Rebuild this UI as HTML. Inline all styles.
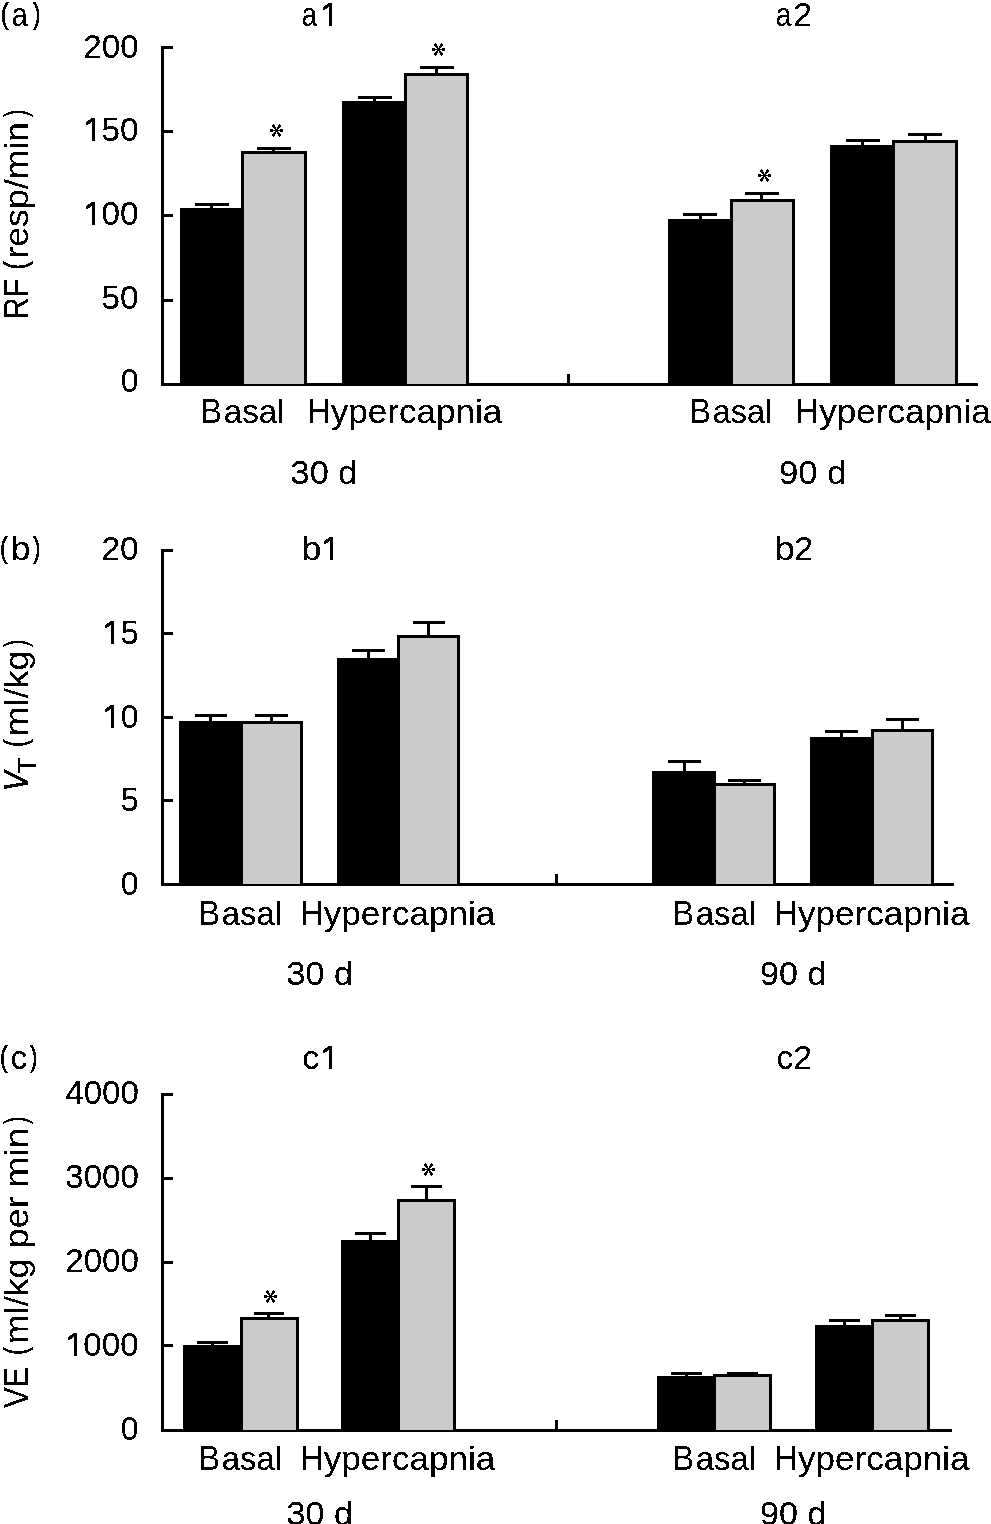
<!DOCTYPE html>
<html><head><meta charset="utf-8"><title>Figure</title>
<style>
html,body{margin:0;padding:0;background:#fff;}
svg{display:block;filter:grayscale(1);}
text{font-family:"Liberation Sans",sans-serif;fill:#000;stroke:#000;}
body{width:991px;height:1524px;overflow:hidden;}
</style></head>
<body>
<svg width="991" height="1524" viewBox="0 0 991 1524">
<defs><filter id="bw" filterUnits="userSpaceOnUse" x="0" y="0" width="991" height="1524" color-interpolation-filters="sRGB"><feComponentTransfer><feFuncA type="discrete" tableValues="0 1"/></feComponentTransfer></filter></defs>
<rect x="0" y="0" width="991" height="1524" fill="#fff"/>
<g shape-rendering="crispEdges">
<rect x="161.0" y="46.0" width="3.0" height="340.0" fill="#000"/>
<rect x="164.0" y="46.0" width="9.0" height="3.0" fill="#000"/>
<rect x="164.0" y="130.0" width="9.0" height="3.0" fill="#000"/>
<rect x="164.0" y="214.0" width="9.0" height="3.0" fill="#000"/>
<rect x="164.0" y="299.0" width="9.0" height="3.0" fill="#000"/>
<rect x="161.0" y="383.0" width="817.0" height="3.0" fill="#000"/>
<rect x="567.0" y="374.0" width="3.0" height="9.0" fill="#000"/>
<rect x="180.0" y="208.0" width="64.0" height="176.0" fill="#000"/>
<rect x="241.0" y="151.0" width="66.0" height="233.0" fill="#000"/>
<rect x="244.0" y="154.0" width="60.0" height="230.0" fill="#cbcbcb"/>
<rect x="342.0" y="101.0" width="65.0" height="283.0" fill="#000"/>
<rect x="404.0" y="73.0" width="65.0" height="311.0" fill="#000"/>
<rect x="407.0" y="76.0" width="59.0" height="308.0" fill="#cbcbcb"/>
<rect x="668.0" y="219.0" width="65.0" height="165.0" fill="#000"/>
<rect x="730.0" y="199.0" width="65.0" height="185.0" fill="#000"/>
<rect x="733.0" y="202.0" width="59.0" height="182.0" fill="#cbcbcb"/>
<rect x="830.0" y="145.0" width="65.0" height="239.0" fill="#000"/>
<rect x="892.0" y="140.0" width="66.0" height="244.0" fill="#000"/>
<rect x="895.0" y="143.0" width="60.0" height="241.0" fill="#cbcbcb"/>
<rect x="195.0" y="203.0" width="34.0" height="3.0" fill="#000"/>
<rect x="210.0" y="203.0" width="3.0" height="6.0" fill="#000"/>
<rect x="257.0" y="147.0" width="34.0" height="3.0" fill="#000"/>
<rect x="272.0" y="147.0" width="3.0" height="5.0" fill="#000"/>
<rect x="358.0" y="96.0" width="34.0" height="3.0" fill="#000"/>
<rect x="373.0" y="96.0" width="3.0" height="6.0" fill="#000"/>
<rect x="420.0" y="66.0" width="34.0" height="3.0" fill="#000"/>
<rect x="435.0" y="66.0" width="3.0" height="8.0" fill="#000"/>
<rect x="683.0" y="213.0" width="34.0" height="3.0" fill="#000"/>
<rect x="699.0" y="213.0" width="3.0" height="7.0" fill="#000"/>
<rect x="745.0" y="192.0" width="34.0" height="3.0" fill="#000"/>
<rect x="760.0" y="192.0" width="3.0" height="8.0" fill="#000"/>
<rect x="846.0" y="139.0" width="34.0" height="3.0" fill="#000"/>
<rect x="861.0" y="139.0" width="3.0" height="7.0" fill="#000"/>
<rect x="908.0" y="133.0" width="34.0" height="3.0" fill="#000"/>
<rect x="924.0" y="133.0" width="3.0" height="8.0" fill="#000"/>
<rect x="161.0" y="549.0" width="3.0" height="337.0" fill="#000"/>
<rect x="164.0" y="549.0" width="9.0" height="3.0" fill="#000"/>
<rect x="164.0" y="632.0" width="9.0" height="3.0" fill="#000"/>
<rect x="164.0" y="716.0" width="9.0" height="3.0" fill="#000"/>
<rect x="164.0" y="799.0" width="9.0" height="3.0" fill="#000"/>
<rect x="161.0" y="883.0" width="793.0" height="3.0" fill="#000"/>
<rect x="555.0" y="874.0" width="3.0" height="9.0" fill="#000"/>
<rect x="179.0" y="721.0" width="64.0" height="163.0" fill="#000"/>
<rect x="240.0" y="721.0" width="63.0" height="163.0" fill="#000"/>
<rect x="243.0" y="724.0" width="57.0" height="160.0" fill="#cbcbcb"/>
<rect x="337.0" y="658.0" width="63.0" height="226.0" fill="#000"/>
<rect x="397.0" y="635.0" width="63.0" height="249.0" fill="#000"/>
<rect x="400.0" y="638.0" width="57.0" height="246.0" fill="#cbcbcb"/>
<rect x="652.0" y="771.0" width="64.0" height="113.0" fill="#000"/>
<rect x="713.0" y="783.0" width="63.0" height="101.0" fill="#000"/>
<rect x="716.0" y="786.0" width="57.0" height="98.0" fill="#cbcbcb"/>
<rect x="810.0" y="737.0" width="64.0" height="147.0" fill="#000"/>
<rect x="871.0" y="729.0" width="63.0" height="155.0" fill="#000"/>
<rect x="874.0" y="732.0" width="57.0" height="152.0" fill="#cbcbcb"/>
<rect x="195.0" y="714.0" width="32.0" height="3.0" fill="#000"/>
<rect x="209.0" y="714.0" width="3.0" height="8.0" fill="#000"/>
<rect x="255.0" y="714.0" width="33.0" height="3.0" fill="#000"/>
<rect x="270.0" y="714.0" width="3.0" height="8.0" fill="#000"/>
<rect x="352.0" y="649.0" width="33.0" height="3.0" fill="#000"/>
<rect x="367.0" y="649.0" width="3.0" height="10.0" fill="#000"/>
<rect x="413.0" y="621.0" width="32.0" height="3.0" fill="#000"/>
<rect x="427.0" y="621.0" width="3.0" height="15.0" fill="#000"/>
<rect x="668.0" y="760.0" width="33.0" height="3.0" fill="#000"/>
<rect x="683.0" y="760.0" width="3.0" height="12.0" fill="#000"/>
<rect x="728.0" y="779.0" width="33.0" height="3.0" fill="#000"/>
<rect x="743.0" y="779.0" width="3.0" height="5.0" fill="#000"/>
<rect x="825.0" y="730.0" width="33.0" height="3.0" fill="#000"/>
<rect x="840.0" y="730.0" width="3.0" height="8.0" fill="#000"/>
<rect x="886.0" y="718.0" width="33.0" height="3.0" fill="#000"/>
<rect x="901.0" y="718.0" width="3.0" height="12.0" fill="#000"/>
<rect x="161.0" y="1093.0" width="3.0" height="339.0" fill="#000"/>
<rect x="164.0" y="1093.0" width="9.0" height="3.0" fill="#000"/>
<rect x="164.0" y="1177.0" width="9.0" height="3.0" fill="#000"/>
<rect x="164.0" y="1261.0" width="9.0" height="3.0" fill="#000"/>
<rect x="164.0" y="1344.0" width="9.0" height="3.0" fill="#000"/>
<rect x="161.0" y="1429.0" width="791.0" height="3.0" fill="#000"/>
<rect x="555.0" y="1420.0" width="3.0" height="9.0" fill="#000"/>
<rect x="183.0" y="1345.0" width="60.0" height="85.0" fill="#000"/>
<rect x="240.0" y="1317.0" width="59.0" height="113.0" fill="#000"/>
<rect x="243.0" y="1320.0" width="53.0" height="110.0" fill="#cbcbcb"/>
<rect x="341.0" y="1240.0" width="59.0" height="190.0" fill="#000"/>
<rect x="397.0" y="1199.0" width="59.0" height="231.0" fill="#000"/>
<rect x="400.0" y="1202.0" width="53.0" height="228.0" fill="#cbcbcb"/>
<rect x="657.0" y="1376.0" width="59.0" height="54.0" fill="#000"/>
<rect x="713.0" y="1374.0" width="59.0" height="56.0" fill="#000"/>
<rect x="716.0" y="1377.0" width="53.0" height="53.0" fill="#cbcbcb"/>
<rect x="815.0" y="1325.0" width="59.0" height="105.0" fill="#000"/>
<rect x="871.0" y="1319.0" width="59.0" height="111.0" fill="#000"/>
<rect x="874.0" y="1322.0" width="53.0" height="108.0" fill="#cbcbcb"/>
<rect x="197.0" y="1341.0" width="31.0" height="3.0" fill="#000"/>
<rect x="211.0" y="1341.0" width="3.0" height="5.0" fill="#000"/>
<rect x="254.0" y="1312.0" width="30.0" height="3.0" fill="#000"/>
<rect x="267.0" y="1312.0" width="3.0" height="6.0" fill="#000"/>
<rect x="355.0" y="1232.0" width="31.0" height="3.0" fill="#000"/>
<rect x="369.0" y="1232.0" width="3.0" height="9.0" fill="#000"/>
<rect x="411.0" y="1185.0" width="31.0" height="3.0" fill="#000"/>
<rect x="425.0" y="1185.0" width="3.0" height="15.0" fill="#000"/>
<rect x="671.0" y="1372.0" width="31.0" height="3.0" fill="#000"/>
<rect x="685.0" y="1372.0" width="3.0" height="5.0" fill="#000"/>
<rect x="727.0" y="1372.0" width="31.0" height="3.0" fill="#000"/>
<rect x="741.0" y="1372.0" width="3.0" height="3.0" fill="#000"/>
<rect x="829.0" y="1319.0" width="31.0" height="3.0" fill="#000"/>
<rect x="843.0" y="1319.0" width="3.0" height="7.0" fill="#000"/>
<rect x="885.0" y="1314.0" width="31.0" height="3.0" fill="#000"/>
<rect x="899.0" y="1314.0" width="3.0" height="6.0" fill="#000"/>
</g>
<g filter="url(#bw)">
<path d="M276.80,131.05 L282.45,131.95 L283.05,131.95 L283.05,129.05 L282.45,129.05 L276.80,129.95Z" fill="#000"/>
<path d="M276.19,131.05 L278.61,136.61 L278.93,137.12 L281.39,135.58 L281.07,135.07 L277.13,130.46Z" fill="#000"/>
<path d="M275.87,130.46 L271.93,135.07 L271.61,135.58 L274.07,137.12 L274.39,136.61 L276.81,131.05Z" fill="#000"/>
<path d="M276.20,129.95 L270.55,129.05 L269.95,129.05 L269.95,131.95 L270.55,131.95 L276.20,131.05Z" fill="#000"/>
<path d="M276.81,129.95 L274.39,124.39 L274.07,123.88 L271.61,125.42 L271.93,125.93 L275.87,130.54Z" fill="#000"/>
<path d="M277.13,130.54 L281.07,125.93 L281.39,125.42 L278.93,123.88 L278.61,124.39 L276.19,129.95Z" fill="#000"/>
<circle cx="276.50" cy="130.50" r="1.0" fill="#000"/>
<path d="M438.80,50.05 L444.45,50.95 L445.05,50.95 L445.05,48.05 L444.45,48.05 L438.80,48.95Z" fill="#000"/>
<path d="M438.19,50.05 L440.61,55.61 L440.93,56.12 L443.39,54.58 L443.07,54.07 L439.13,49.46Z" fill="#000"/>
<path d="M437.87,49.46 L433.93,54.07 L433.61,54.58 L436.07,56.12 L436.39,55.61 L438.81,50.05Z" fill="#000"/>
<path d="M438.20,48.95 L432.55,48.05 L431.95,48.05 L431.95,50.95 L432.55,50.95 L438.20,50.05Z" fill="#000"/>
<path d="M438.81,48.95 L436.39,43.39 L436.07,42.88 L433.61,44.42 L433.93,44.93 L437.87,49.54Z" fill="#000"/>
<path d="M439.13,49.54 L443.07,44.93 L443.39,44.42 L440.93,42.88 L440.61,43.39 L438.19,48.95Z" fill="#000"/>
<circle cx="438.50" cy="49.50" r="1.0" fill="#000"/>
<path d="M764.80,176.05 L770.45,176.95 L771.05,176.95 L771.05,174.05 L770.45,174.05 L764.80,174.95Z" fill="#000"/>
<path d="M764.19,176.05 L766.61,181.61 L766.93,182.12 L769.39,180.58 L769.07,180.07 L765.13,175.46Z" fill="#000"/>
<path d="M763.87,175.46 L759.93,180.07 L759.61,180.58 L762.07,182.12 L762.39,181.61 L764.81,176.05Z" fill="#000"/>
<path d="M764.20,174.95 L758.55,174.05 L757.95,174.05 L757.95,176.95 L758.55,176.95 L764.20,176.05Z" fill="#000"/>
<path d="M764.81,174.95 L762.39,169.39 L762.07,168.88 L759.61,170.42 L759.93,170.93 L763.87,175.54Z" fill="#000"/>
<path d="M765.13,175.54 L769.07,170.93 L769.39,170.42 L766.93,168.88 L766.61,169.39 L764.19,174.95Z" fill="#000"/>
<circle cx="764.50" cy="175.50" r="1.0" fill="#000"/>
<path d="M270.80,1297.05 L276.45,1297.95 L277.05,1297.95 L277.05,1295.05 L276.45,1295.05 L270.80,1295.95Z" fill="#000"/>
<path d="M270.19,1297.05 L272.61,1302.61 L272.93,1303.12 L275.39,1301.58 L275.07,1301.07 L271.13,1296.46Z" fill="#000"/>
<path d="M269.87,1296.46 L265.93,1301.07 L265.61,1301.58 L268.07,1303.12 L268.39,1302.61 L270.81,1297.05Z" fill="#000"/>
<path d="M270.20,1295.95 L264.55,1295.05 L263.95,1295.05 L263.95,1297.95 L264.55,1297.95 L270.20,1297.05Z" fill="#000"/>
<path d="M270.81,1295.95 L268.39,1290.39 L268.07,1289.88 L265.61,1291.42 L265.93,1291.93 L269.87,1296.54Z" fill="#000"/>
<path d="M271.13,1296.54 L275.07,1291.93 L275.39,1291.42 L272.93,1289.88 L272.61,1290.39 L270.19,1295.95Z" fill="#000"/>
<circle cx="270.50" cy="1296.50" r="1.0" fill="#000"/>
<path d="M428.80,1170.05 L434.45,1170.95 L435.05,1170.95 L435.05,1168.05 L434.45,1168.05 L428.80,1168.95Z" fill="#000"/>
<path d="M428.19,1170.05 L430.61,1175.61 L430.93,1176.12 L433.39,1174.58 L433.07,1174.07 L429.13,1169.46Z" fill="#000"/>
<path d="M427.87,1169.46 L423.93,1174.07 L423.61,1174.58 L426.07,1176.12 L426.39,1175.61 L428.81,1170.05Z" fill="#000"/>
<path d="M428.20,1168.95 L422.55,1168.05 L421.95,1168.05 L421.95,1170.95 L422.55,1170.95 L428.20,1170.05Z" fill="#000"/>
<path d="M428.81,1168.95 L426.39,1163.39 L426.07,1162.88 L423.61,1164.42 L423.93,1164.93 L427.87,1169.54Z" fill="#000"/>
<path d="M429.13,1169.54 L433.07,1164.93 L433.39,1164.42 L430.93,1162.88 L430.61,1163.39 L428.19,1168.95Z" fill="#000"/>
<circle cx="428.50" cy="1169.50" r="1.0" fill="#000"/>
<path d="M329.00,26.00 L332.00,26.00 L332.00,3.00 L329.00,3.00 L323.00,7.00 L323.00,10.00 L324.60,10.00 L329.00,6.80Z" fill="#000"/>
<path d="M330.00,560.00 L333.00,560.00 L333.00,537.00 L330.00,537.00 L324.00,541.00 L324.00,544.00 L325.60,544.00 L330.00,540.80Z" fill="#000"/>
<path d="M329.00,1069.00 L332.00,1069.00 L332.00,1046.00 L329.00,1046.00 L323.00,1050.00 L323.00,1053.00 L324.60,1053.00 L329.00,1049.80Z" fill="#000"/>
<path d="M92.00,141.00 L95.00,141.00 L95.00,118.00 L92.00,118.00 L86.00,122.00 L86.00,125.00 L87.60,125.00 L92.00,121.80Z" fill="#000"/>
<path d="M92.00,225.00 L95.00,225.00 L95.00,202.00 L92.00,202.00 L86.00,206.00 L86.00,209.00 L87.60,209.00 L92.00,205.80Z" fill="#000"/>
<path d="M111.00,644.00 L114.00,644.00 L114.00,621.00 L111.00,621.00 L105.00,625.00 L105.00,628.00 L106.60,628.00 L111.00,624.80Z" fill="#000"/>
<path d="M111.00,728.00 L114.00,728.00 L114.00,705.00 L111.00,705.00 L105.00,709.00 L105.00,712.00 L106.60,712.00 L111.00,708.80Z" fill="#000"/>
<path d="M74.00,1356.00 L77.00,1356.00 L77.00,1333.00 L74.00,1333.00 L68.00,1337.00 L68.00,1340.00 L69.60,1340.00 L74.00,1336.80Z" fill="#000"/>
<text x="0.47" y="23.75" font-size="30.2" stroke-width="0.4" textLength="8.41" lengthAdjust="spacingAndGlyphs">(</text>
<text x="32.73" y="23.75" font-size="30.2" stroke-width="0.4" textLength="7.96" lengthAdjust="spacingAndGlyphs">)</text>
<text x="11.73" y="26.00" font-size="33" stroke-width="0.16" textLength="15.94" lengthAdjust="spacingAndGlyphs">a</text>
<text x="-0.29" y="557.75" font-size="30.2" stroke-width="0.4" textLength="8.16" lengthAdjust="spacingAndGlyphs">(</text>
<text x="32.73" y="557.75" font-size="30.2" stroke-width="0.4" textLength="7.96" lengthAdjust="spacingAndGlyphs">)</text>
<text x="10.70" y="560.00" font-size="33" stroke-width="0.16" textLength="19.82" lengthAdjust="spacingAndGlyphs">b</text>
<text x="-0.29" y="1066.85" font-size="30.2" stroke-width="0.4" textLength="8.16" lengthAdjust="spacingAndGlyphs">(</text>
<text x="29.73" y="1066.85" font-size="30.2" stroke-width="0.4" textLength="7.84" lengthAdjust="spacingAndGlyphs">)</text>
<text x="10.54" y="1069.10" font-size="33" stroke-width="0.16" textLength="16.74" lengthAdjust="spacingAndGlyphs">c</text>
<text x="301.55" y="26.00" font-size="33" stroke-width="0.16" textLength="15.73" lengthAdjust="spacingAndGlyphs">a</text>
<text x="775.43" y="26.00" font-size="33" stroke-width="0.16" textLength="15.94" lengthAdjust="spacingAndGlyphs">a</text>
<text x="793.17" y="26.00" font-size="33" stroke-width="0.16" textLength="18.70" lengthAdjust="spacingAndGlyphs">2</text>
<text x="301.49" y="560.00" font-size="33" stroke-width="0.16" textLength="19.95" lengthAdjust="spacingAndGlyphs">b</text>
<text x="774.32" y="560.00" font-size="33" stroke-width="0.16" textLength="20.56" lengthAdjust="spacingAndGlyphs">b</text>
<text x="794.17" y="560.00" font-size="33" stroke-width="0.16" textLength="18.70" lengthAdjust="spacingAndGlyphs">2</text>
<text x="302.31" y="1069.10" font-size="33" stroke-width="0.16" textLength="17.09" lengthAdjust="spacingAndGlyphs">c</text>
<text x="776.64" y="1069.10" font-size="33" stroke-width="0.16" textLength="16.74" lengthAdjust="spacingAndGlyphs">c</text>
<text x="793.17" y="1069.10" font-size="33" stroke-width="0.16" textLength="18.70" lengthAdjust="spacingAndGlyphs">2</text>
<text x="200.38" y="423.00" font-size="34.8" stroke-width="0.0" textLength="21.44" lengthAdjust="spacingAndGlyphs">B</text>
<text x="223.76" y="423.00" font-size="33" stroke-width="0.16" textLength="60.87" lengthAdjust="spacingAndGlyphs">asal</text>
<text x="689.38" y="423.00" font-size="34.8" stroke-width="0.0" textLength="21.44" lengthAdjust="spacingAndGlyphs">B</text>
<text x="712.79" y="423.00" font-size="33" stroke-width="0.16" textLength="59.59" lengthAdjust="spacingAndGlyphs">asal</text>
<text x="307.27" y="423.00" font-size="34.8" stroke-width="0.0" textLength="23.32" lengthAdjust="spacingAndGlyphs">H</text>
<text x="330.84" y="423.00" font-size="33" stroke-width="0.16" textLength="171.56" lengthAdjust="spacingAndGlyphs">ypercapnia</text>
<text x="795.77" y="423.00" font-size="34.8" stroke-width="0.0" textLength="23.32" lengthAdjust="spacingAndGlyphs">H</text>
<text x="819.34" y="423.00" font-size="33" stroke-width="0.16" textLength="171.56" lengthAdjust="spacingAndGlyphs">ypercapnia</text>
<text x="198.38" y="925.00" font-size="34.8" stroke-width="0.0" textLength="21.44" lengthAdjust="spacingAndGlyphs">B</text>
<text x="221.77" y="925.00" font-size="33" stroke-width="0.16" textLength="60.23" lengthAdjust="spacingAndGlyphs">asal</text>
<text x="672.38" y="925.00" font-size="34.8" stroke-width="0.0" textLength="21.44" lengthAdjust="spacingAndGlyphs">B</text>
<text x="695.77" y="925.00" font-size="33" stroke-width="0.16" textLength="60.44" lengthAdjust="spacingAndGlyphs">asal</text>
<text x="300.27" y="925.00" font-size="34.8" stroke-width="0.0" textLength="23.32" lengthAdjust="spacingAndGlyphs">H</text>
<text x="323.84" y="925.00" font-size="33" stroke-width="0.16" textLength="171.46" lengthAdjust="spacingAndGlyphs">ypercapnia</text>
<text x="774.37" y="925.00" font-size="34.8" stroke-width="0.0" textLength="23.32" lengthAdjust="spacingAndGlyphs">H</text>
<text x="797.94" y="925.00" font-size="33" stroke-width="0.16" textLength="171.56" lengthAdjust="spacingAndGlyphs">ypercapnia</text>
<text x="198.38" y="1470.00" font-size="34.8" stroke-width="0.0" textLength="21.44" lengthAdjust="spacingAndGlyphs">B</text>
<text x="221.77" y="1470.00" font-size="33" stroke-width="0.16" textLength="60.23" lengthAdjust="spacingAndGlyphs">asal</text>
<text x="672.38" y="1470.00" font-size="34.8" stroke-width="0.0" textLength="21.44" lengthAdjust="spacingAndGlyphs">B</text>
<text x="695.77" y="1470.00" font-size="33" stroke-width="0.16" textLength="60.44" lengthAdjust="spacingAndGlyphs">asal</text>
<text x="300.27" y="1470.00" font-size="34.8" stroke-width="0.0" textLength="23.32" lengthAdjust="spacingAndGlyphs">H</text>
<text x="323.84" y="1470.00" font-size="33" stroke-width="0.16" textLength="171.46" lengthAdjust="spacingAndGlyphs">ypercapnia</text>
<text x="774.37" y="1470.00" font-size="34.8" stroke-width="0.0" textLength="23.32" lengthAdjust="spacingAndGlyphs">H</text>
<text x="797.94" y="1470.00" font-size="33" stroke-width="0.16" textLength="171.56" lengthAdjust="spacingAndGlyphs">ypercapnia</text>
<text x="290.60" y="484.10" font-size="33" stroke-width="0.16" textLength="66.84" lengthAdjust="spacingAndGlyphs">30 d</text>
<text x="779.09" y="484.10" font-size="33" stroke-width="0.16" textLength="67.35" lengthAdjust="spacingAndGlyphs">90 d</text>
<text x="286.60" y="985.10" font-size="33" stroke-width="0.16" textLength="66.53" lengthAdjust="spacingAndGlyphs">30 d</text>
<text x="760.12" y="985.10" font-size="33" stroke-width="0.16" textLength="66.29" lengthAdjust="spacingAndGlyphs">90 d</text>
<text x="286.60" y="1525.20" font-size="33" stroke-width="0.16" textLength="66.53" lengthAdjust="spacingAndGlyphs">30 d</text>
<text x="760.12" y="1525.20" font-size="33" stroke-width="0.16" textLength="66.29" lengthAdjust="spacingAndGlyphs">90 d</text>
<text x="83.20" y="58.10" font-size="33" stroke-width="0.16" textLength="55.44" lengthAdjust="spacingAndGlyphs">200</text>
<text x="101.60" y="141.10" font-size="33" stroke-width="0.16" textLength="37.02" lengthAdjust="spacingAndGlyphs">50</text>
<text x="101.60" y="225.00" font-size="33" stroke-width="0.16" textLength="37.02" lengthAdjust="spacingAndGlyphs">00</text>
<text x="101.60" y="309.00" font-size="33" stroke-width="0.16" textLength="37.02" lengthAdjust="spacingAndGlyphs">50</text>
<text x="120.64" y="392.00" font-size="33" stroke-width="0.16" textLength="17.93" lengthAdjust="spacingAndGlyphs">0</text>
<text x="101.60" y="560.00" font-size="33" stroke-width="0.16" textLength="37.02" lengthAdjust="spacingAndGlyphs">20</text>
<text x="120.64" y="643.70" font-size="33" stroke-width="0.16" textLength="17.93" lengthAdjust="spacingAndGlyphs">5</text>
<text x="120.64" y="728.40" font-size="33" stroke-width="0.16" textLength="17.93" lengthAdjust="spacingAndGlyphs">0</text>
<text x="120.64" y="811.10" font-size="33" stroke-width="0.16" textLength="17.93" lengthAdjust="spacingAndGlyphs">5</text>
<text x="120.64" y="895.10" font-size="33" stroke-width="0.16" textLength="17.93" lengthAdjust="spacingAndGlyphs">0</text>
<text x="65.29" y="1104.10" font-size="33" stroke-width="0.16" textLength="73.47" lengthAdjust="spacingAndGlyphs">4000</text>
<text x="65.29" y="1188.10" font-size="33" stroke-width="0.16" textLength="73.47" lengthAdjust="spacingAndGlyphs">3000</text>
<text x="65.29" y="1272.30" font-size="33" stroke-width="0.16" textLength="73.47" lengthAdjust="spacingAndGlyphs">2000</text>
<text x="83.20" y="1356.20" font-size="33" stroke-width="0.16" textLength="55.44" lengthAdjust="spacingAndGlyphs">000</text>
<text x="120.64" y="1440.10" font-size="33" stroke-width="0.16" textLength="17.93" lengthAdjust="spacingAndGlyphs">0</text>
<text transform="translate(28.20,319.36) rotate(-90)" font-size="35" stroke-width="0.08" textLength="40.61" lengthAdjust="spacingAndGlyphs">RF</text>
<text transform="translate(25.95,269.66) rotate(-90)" font-size="30.5" stroke-width="0.4" textLength="8.69" lengthAdjust="spacingAndGlyphs">(</text>
<text transform="translate(28.20,258.59) rotate(-90)" font-size="33.4" stroke-width="0.08" textLength="136.66" lengthAdjust="spacingAndGlyphs">resp/min</text>
<text transform="translate(25.95,117.18) rotate(-90)" font-size="30.5" stroke-width="0.4" textLength="7.55" lengthAdjust="spacingAndGlyphs">)</text>
<text transform="translate(28.20,791.19) rotate(-90)" font-size="35" stroke-width="0.5" font-style="italic" textLength="19.94" lengthAdjust="spacingAndGlyphs">V</text>
<text transform="translate(36.10,773.60) rotate(-90)" font-size="26.5" stroke-width="0.08" textLength="16.23" lengthAdjust="spacingAndGlyphs">T</text>
<text transform="translate(25.95,747.27) rotate(-90)" font-size="30.5" stroke-width="0.4" textLength="8.09" lengthAdjust="spacingAndGlyphs">(</text>
<text transform="translate(28.20,736.23) rotate(-90)" font-size="33.4" stroke-width="0.08" textLength="85.73" lengthAdjust="spacingAndGlyphs">ml/kg</text>
<text transform="translate(25.95,647.18) rotate(-90)" font-size="30.5" stroke-width="0.4" textLength="7.55" lengthAdjust="spacingAndGlyphs">)</text>
<text transform="translate(28.20,1408.12) rotate(-90)" font-size="35" stroke-width="0.08" textLength="41.50" lengthAdjust="spacingAndGlyphs">VE</text>
<text transform="translate(25.95,1355.23) rotate(-90)" font-size="30.5" stroke-width="0.4" textLength="8.45" lengthAdjust="spacingAndGlyphs">(</text>
<text transform="translate(28.20,1344.12) rotate(-90)" font-size="33.4" stroke-width="0.08" textLength="85.51" lengthAdjust="spacingAndGlyphs">ml/kg</text>
<text transform="translate(28.20,1248.25) rotate(-90)" font-size="33.4" stroke-width="0.08" textLength="51.83" lengthAdjust="spacingAndGlyphs">per</text>
<text transform="translate(28.20,1187.43) rotate(-90)" font-size="33.4" stroke-width="0.08" textLength="59.77" lengthAdjust="spacingAndGlyphs">min</text>
<text transform="translate(25.95,1124.28) rotate(-90)" font-size="30.5" stroke-width="0.4" textLength="7.55" lengthAdjust="spacingAndGlyphs">)</text>
</g>
</svg>
</body></html>
